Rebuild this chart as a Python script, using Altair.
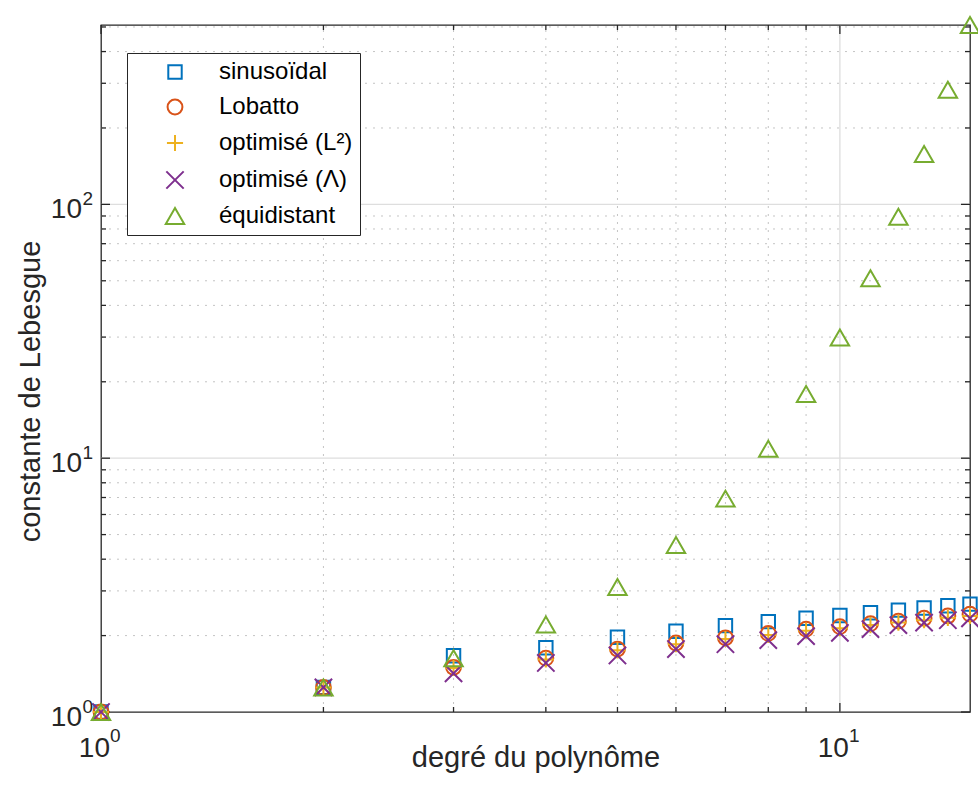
import altair as alt
import pandas as pd

# Lebesgue constants by polynomial degree for several node families
degree = list(range(1, 16))
sinusoidal = [1.0, 1.25, 1.667, 1.79, 1.97, 2.08, 2.19, 2.27, 2.34, 2.40, 2.46, 2.52, 2.57, 2.62, 2.66]
lobatto = [1.0, 1.25, 1.50, 1.63, 1.77, 1.87, 1.96, 2.04, 2.12, 2.17, 2.23, 2.28, 2.34, 2.39, 2.43]
optim_l2 = [1.0, 1.25, 1.49, 1.61, 1.75, 1.85, 1.94, 2.01, 2.09, 2.14, 2.20, 2.25, 2.30, 2.35, 2.39]
optim_lambda = [1.0, 1.25, 1.42, 1.56, 1.67, 1.77, 1.85, 1.92, 1.99, 2.05, 2.12, 2.20, 2.25, 2.30, 2.34]
equidistant = [1.0, 1.25, 1.63, 2.21, 3.11, 4.55, 6.93, 10.9, 17.9, 29.9, 51.2, 89.3, 158.0, 283.0, 509.0]

series_names = ["sinusoïdal", "Lobatto", "optimisé (L²)", "optimisé (Λ)", "équidistant"]
series_values = [sinusoidal, lobatto, optim_l2, optim_lambda, equidistant]
series_colors = ["#0072BD", "#D95319", "#EDB120", "#7E2F8E", "#77AC30"]
series_shapes = ["square", "circle", "M-1,0L1,0M0,-1L0,1", "M-1,-1L1,1M-1,1L1,-1", "triangle-up"]
series_sizes = [180, 340, 225, 95, 480]

# axis limits and tick positions (log-log)
x_domain = [1, 15]
y_domain = [1, 509]
x_major = [1, 10]
x_minor = [2, 3, 4, 5, 6, 7, 8, 9]
y_major = [1, 10, 100]
y_minor = [2, 3, 4, 5, 6, 7, 8, 9, 20, 30, 40, 50, 60, 70, 80, 90, 200, 300, 400, 500]
x_tick_exp = ["0", "1"]
y_tick_exp = ["0", "1", "2"]

FONT = "Liberation Sans"
AXIS_COLOR = "#262626"

rows = []
for name, vals in zip(series_names, series_values):
    for d, v in zip(degree, vals):
        rows.append({"degree": d, "value": v, "series": name})
points_df = pd.DataFrame(rows)

xs = alt.Scale(type="log", domain=x_domain, nice=False, zero=False)
ys = alt.Scale(type="log", domain=y_domain, nice=False, zero=False)

x_major_df = pd.DataFrame({"v": x_major, "e": x_tick_exp})
y_major_df = pd.DataFrame({"v": y_major, "e": y_tick_exp})
x_minor_df = pd.DataFrame({"v": x_minor})
y_minor_df = pd.DataFrame({"v": y_minor})
x_grid_major_df = pd.DataFrame({"v": [v for v in x_major if v != x_domain[0]]})
y_grid_major_df = pd.DataFrame({"v": [v for v in y_major if v != y_domain[0]]})

x_bottom = alt.X(datum=x_domain[0], type="quantitative", scale=xs)
x_right = alt.X(datum=x_domain[1], type="quantitative", scale=xs)
y_bottom = alt.Y(datum=y_domain[0], type="quantitative", scale=ys)
y_top = alt.Y(datum=y_domain[1], type="quantitative", scale=ys)

# grid lines
vgrid_minor = alt.Chart(x_minor_df).mark_rule(
    color="#c4c4c4", strokeWidth=1, strokeDash=[2, 6]
).encode(x=alt.X("v:Q", scale=xs), y=y_bottom, y2=alt.Y2(datum=y_domain[1]))
hgrid_minor = alt.Chart(y_minor_df).mark_rule(
    color="#c4c4c4", strokeWidth=1, strokeDash=[2, 6]
).encode(y=alt.Y("v:Q", scale=ys), x=x_bottom, x2=alt.X2(datum=x_domain[1]))
vgrid_major = alt.Chart(x_grid_major_df).mark_rule(
    color="#dedede", strokeWidth=1.3
).encode(x=alt.X("v:Q", scale=xs), y=y_bottom, y2=alt.Y2(datum=y_domain[1]))
hgrid_major = alt.Chart(y_grid_major_df).mark_rule(
    color="#dedede", strokeWidth=1.3
).encode(y=alt.Y("v:Q", scale=ys), x=x_bottom, x2=alt.X2(datum=x_domain[1]))

# inward ticks on all four sides
def x_ticks(df, length):
    bottom = alt.Chart(df).mark_rule(color=AXIS_COLOR, strokeWidth=1.3, y2Offset=-length).encode(
        x=alt.X("v:Q", scale=xs), y=y_bottom, y2=alt.Y2(datum=y_domain[0]))
    top = alt.Chart(df).mark_rule(color=AXIS_COLOR, strokeWidth=1.3, y2Offset=length).encode(
        x=alt.X("v:Q", scale=xs), y=y_top, y2=alt.Y2(datum=y_domain[1]))
    return [bottom, top]

def y_ticks(df, length):
    left = alt.Chart(df).mark_rule(color=AXIS_COLOR, strokeWidth=1.3, x2Offset=length).encode(
        y=alt.Y("v:Q", scale=ys), x=x_bottom, x2=alt.X2(datum=x_domain[0]))
    right = alt.Chart(df).mark_rule(color=AXIS_COLOR, strokeWidth=1.3, x2Offset=-length).encode(
        y=alt.Y("v:Q", scale=ys), x=x_right, x2=alt.X2(datum=x_domain[1]))
    return [left, right]

ticks = x_ticks(x_major_df, 9) + x_ticks(x_minor_df, 5) + y_ticks(y_major_df, 9) + y_ticks(y_minor_df, 5)

# tick labels as 10 with a raised exponent
x_lab_base = alt.Chart(x_major_df).mark_text(
    text="10", align="right", baseline="alphabetic", dx=9, dy=45,
    font=FONT, fontSize=28, color=AXIS_COLOR
).encode(x=alt.X("v:Q", scale=xs), y=y_bottom)
x_lab_exp = alt.Chart(x_major_df).mark_text(
    align="left", baseline="alphabetic", dx=9, dy=30,
    font=FONT, fontSize=19, color=AXIS_COLOR
).encode(x=alt.X("v:Q", scale=xs), y=y_bottom, text="e:N")
y_lab_base = alt.Chart(y_major_df).mark_text(
    text="10", align="right", baseline="alphabetic", dx=-19, dy=14,
    font=FONT, fontSize=28, color=AXIS_COLOR
).encode(y=alt.Y("v:Q", scale=ys), x=x_bottom)
y_lab_exp = alt.Chart(y_major_df).mark_text(
    align="right", baseline="alphabetic", dx=-8, dy=1,
    font=FONT, fontSize=19, color=AXIS_COLOR
).encode(y=alt.Y("v:Q", scale=ys), x=x_bottom, text="e:N")

legend = alt.Legend(
    title=None, orient="none", legendX=26, legendY=28,
    labelFont=FONT, labelFontSize=24, labelColor="black",
    symbolStrokeWidth=2, strokeColor=AXIS_COLOR, fillColor="white",
    padding=7, rowPadding=11, symbolOffset=29, labelOffset=32,
)

pts = alt.Chart(points_df).mark_point(filled=False, strokeWidth=2, opacity=1).encode(
    x=alt.X("degree:Q", scale=xs,
            axis=alt.Axis(title="degré du polynôme", labels=False, ticks=False, domain=False, grid=False,
                          titleFont=FONT, titleFontSize=29, titleFontWeight="normal", titleColor=AXIS_COLOR,
                          titleBaseline="alphabetic", titleY=54)),
    y=alt.Y("value:Q", scale=ys,
            axis=alt.Axis(title="constante de Lebesgue", labels=False, ticks=False, domain=False, grid=False,
                          titleFont=FONT, titleFontSize=29, titleFontWeight="normal", titleColor=AXIS_COLOR,
                          titleBaseline="alphabetic", titleAngle=270, titleX=-62, titleY=366)),
    color=alt.Color("series:N", scale=alt.Scale(domain=series_names, range=series_colors), legend=legend),
    shape=alt.Shape("series:N", scale=alt.Scale(domain=series_names, range=series_shapes), legend=legend),
    size=alt.Size("series:N", scale=alt.Scale(domain=series_names, range=series_sizes), legend=legend),
)

chart = alt.layer(
    vgrid_minor, hgrid_minor, vgrid_major, hgrid_major,
    *ticks,
    pts,
    x_lab_base, x_lab_exp, y_lab_base, y_lab_exp,
).properties(
    width=869, height=687,
    autosize=alt.AutoSizeParams(type="none"),
    padding={"left": 101, "top": 25, "right": 8, "bottom": 94},
    background="white",
).configure_view(
    stroke=AXIS_COLOR, strokeWidth=1.3
)

chart.save("out.html", embed_options={"renderer": "svg", "actions": False})
